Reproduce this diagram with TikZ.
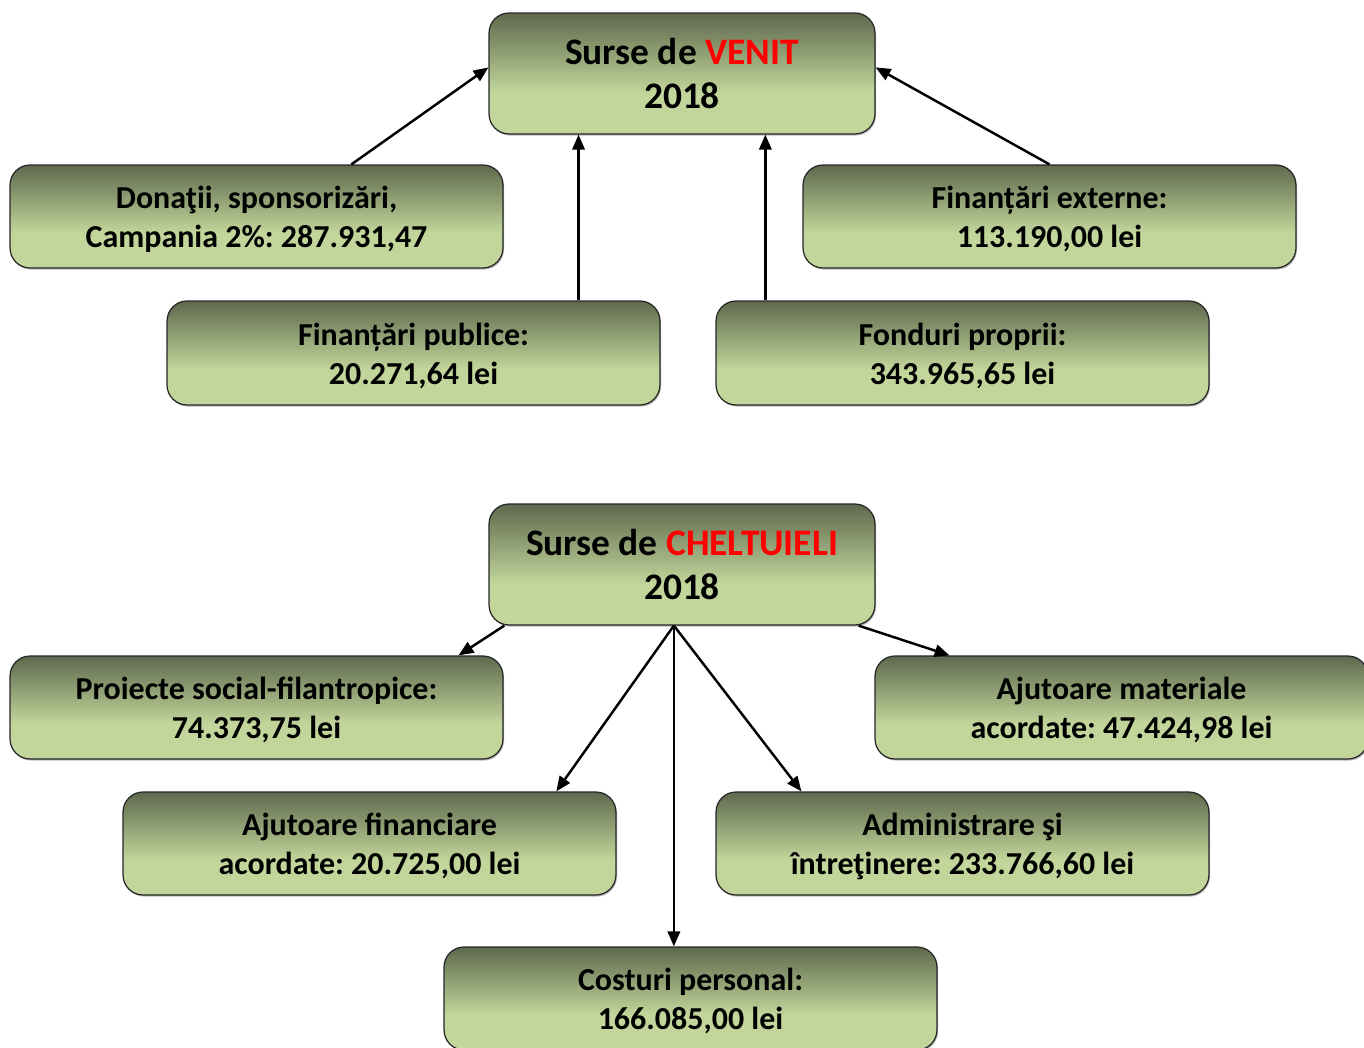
\documentclass[tikz,border=0pt]{standalone}
\usepackage{fontspec}
\setmainfont{Carlito}
\frenchspacing
\usetikzlibrary{arrows.meta,calc,shadows}
\definecolor{boxdark}{RGB}{94,105,77}
\definecolor{boxlight}{RGB}{194,214,155}
\pgfdeclareverticalshading{boxshade}{100bp}{color(0bp)=(boxlight); color(25bp)=(boxlight); color(42bp)=(boxlight); color(75bp)=(boxdark); color(100bp)=(boxdark)}
\newcommand\twolines[2]{\rule{0pt}{18.5pt}#1\\#2\rule[-5pt]{0pt}{0pt}}
\tikzset{
  x=0.02cm, y=-0.02cm,
  basebox/.style={rectangle, rounded corners=0.4cm, draw=black!85, line width=0.7pt,
    shading=boxshade, align=center, inner sep=0pt,
    drop shadow={shadow xshift=0.6pt, shadow yshift=-0.9pt, fill=black!45, opacity=0.6}},
  card/.style={basebox, font=\fontsize{18.2}{22.2}\selectfont\bfseries},
  head/.style={basebox, font=\fontsize{21.3}{25.6}\selectfont\bfseries},
  arr/.style={line width=1.4pt, -{Triangle[length=8.5pt,width=7pt]}},
}
\begin{document}
\begin{tikzpicture}
\useasboundingbox (0,0) rectangle (1364,1047);
\clip (0,0) rectangle (1364,1047);
% VENIT
\node[head, minimum width=7.72cm, minimum height=2.42cm] (venit) at (682,73.5) {Surse de \textcolor{red}{VENIT}\\2018};
\node[card, minimum width=9.86cm, minimum height=2.06cm] (don) at (256.5,216.5) {\twolines{Donaţii, sponsorizări,}{Campania 2\%: 287.931,47}};
\node[card, minimum width=9.86cm, minimum height=2.06cm] (ext) at (1049.5,216.5) {\twolines{Finanțări externe:}{113.190,00 lei}};
\node[card, minimum width=9.86cm, minimum height=2.08cm] (pub) at (413.5,353) {\twolines{Finanțări publice:}{20.271,64 lei}};
\node[card, minimum width=9.86cm, minimum height=2.08cm] (prop) at (962.5,353) {\twolines{Fonduri proprii:}{343.965,65 lei}};
% CHELTUIELI
\node[head, minimum width=7.72cm, minimum height=2.42cm] (chelt) at (682,564.5) {Surse de \textcolor{red}{CHELTUIELI}\\2018};
\node[card, minimum width=9.86cm, minimum height=2.06cm] (proi) at (256.5,707.5) {\twolines{Proiecte social-filantropice:}{74.373,75 lei}};
\node[card, minimum width=9.86cm, minimum height=2.06cm] (mat) at (1121.5,707.5) {\twolines{Ajutoare materiale}{acordate: 47.424,98 lei}};
\node[card, minimum width=9.86cm, minimum height=2.06cm] (fin) at (369.5,843.5) {\twolines{Ajutoare financiare}{acordate: 20.725,00 lei}};
\node[card, minimum width=9.86cm, minimum height=2.06cm] (adm) at (962.5,843.5) {\twolines{Administrare şi}{întreţinere: 233.766,60 lei}};
\node[card, minimum width=9.86cm, minimum height=2.06cm] (cost) at (690.5,998.5) {\twolines{Costuri personal:}{166.085,00 lei}};
% connectors to VENIT
\draw[arr] ($(don.north west)!0.692!(don.north east)$) -- ($(venit.north west)!0.45!(venit.south west)$);
\draw[arr] (ext.north) -- ($(venit.north east)!0.45!(venit.south east)$);
\coordinate (pubtop) at ($(pub.north west)!0.834!(pub.north east)$);
\draw[arr] (pubtop) -- (pubtop |- venit.south);
\coordinate (proptop) at ($(prop.north west)!0.101!(prop.north east)$);
\draw[arr] (proptop) -- (proptop |- venit.south);
% connectors from CHELTUIELI
\coordinate (hub) at ($(chelt.south west)!0.479!(chelt.south east)$);
\draw[arr] ($(chelt.south west)!0.041!(chelt.south east)$) -- ($(proi.north west)!0.909!(proi.north east)$);
\draw[arr] ($(chelt.south west)!0.956!(chelt.south east)$) -- ($(mat.north west)!0.152!(mat.north east)$);
\draw[arr] (hub) -- ($(fin.north west)!0.878!(fin.north east)$);
\draw[arr] (hub) -- ($(adm.north west)!0.174!(adm.north east)$);
\draw[arr] (hub) -- (hub |- cost.north);
\end{tikzpicture}
\end{document}
